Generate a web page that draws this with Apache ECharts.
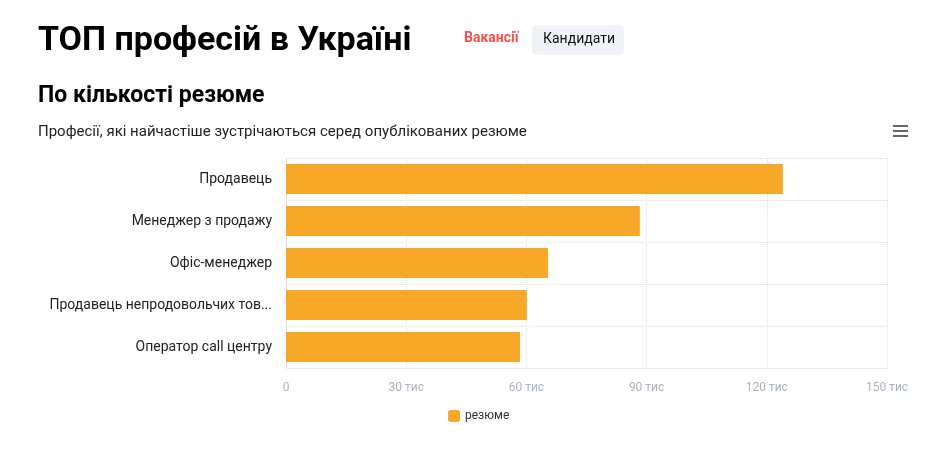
<!DOCTYPE html>
<html><head><meta charset="utf-8">
<script src="https://cdn.jsdelivr.net/npm/echarts@6/dist/echarts.min.js"></script>
<style>html,body{margin:0;padding:0;background:#fff}#c{width:934px;height:453px}</style>
</head><body><div id="c"></div>
<script>
const categories = ['Продавець','Менеджер з продажу','Офіс-менеджер','Продавець непродовольчих тов...','Оператор call центру'];
const values = [124000, 88300, 65400, 60100, 58400];
const seriesName = 'резюме';
const chart = echarts.init(document.getElementById('c'));
const F = 'Roboto, "Noto Sans", sans-serif';
chart.setOption({
  animation:false,
  textStyle:{fontFamily:F},
  title:[
    {text:'ТОП професій в Україні',left:33,top:19,textStyle:{fontSize:34,fontWeight:'bold',color:'#000',fontFamily:F}},
    {text:'По кількості резюме',left:33,top:80,textStyle:{fontSize:23,fontWeight:'bold',color:'#000',fontFamily:F}},
    {text:'Професії, які найчастіше зустрічаються серед опублікованих резюме',left:33,top:120,textStyle:{fontSize:15,fontWeight:'normal',color:'#222',fontFamily:F}}
  ],
  graphic:[
    {type:'text',left:464,top:31,style:{text:'Вакансії',fontSize:14,fontWeight:'bold',fill:'#f55050',fontFamily:F}},
    {type:'rect',left:532,top:25,shape:{width:92,height:30,r:5},style:{fill:'#eff2f6'}},
    {type:'text',left:543,top:32,style:{text:'Кандидати',fontSize:14,fill:'#111',fontFamily:F}},
    {type:'group',left:893,top:125,children:[
      {type:'rect',shape:{x:0,y:0,width:15,height:2},style:{fill:'#666'}},
      {type:'rect',shape:{x:0,y:5,width:15,height:2},style:{fill:'#666'}},
      {type:'rect',shape:{x:0,y:10,width:15,height:2},style:{fill:'#666'}}
    ]}
  ],
  legend:{data:[seriesName],top:405,left:443,itemWidth:12,itemHeight:12,itemGap:5,icon:'roundRect',textStyle:{fontSize:12,color:'#333'}},
  grid:{left:286,right:47,top:158,bottom:85,containLabel:false},
  xAxis:{type:'value',min:0,max:150000,interval:30000,
    axisLabel:{color:'#a8b4c0',fontSize:12,margin:14,formatter:v=>v===0?'0':(v/1000)+' тис'},
    axisLine:{show:false},axisTick:{show:false},
    splitLine:{lineStyle:{type:'dotted',color:'#ddd'}}},
  yAxis:{type:'category',data:categories,inverse:true,
    axisLabel:{color:'#222',fontSize:14,margin:14},
    axisTick:{show:false},axisLine:{lineStyle:{color:'#ddd'}},
    splitLine:{show:true,lineStyle:{type:'dotted',color:'#ddd'}}},
  series:[{name:seriesName,type:'bar',data:values,barCategoryGap:'28%',itemStyle:{color:'#f8a828'}}]
});
</script></body></html>
